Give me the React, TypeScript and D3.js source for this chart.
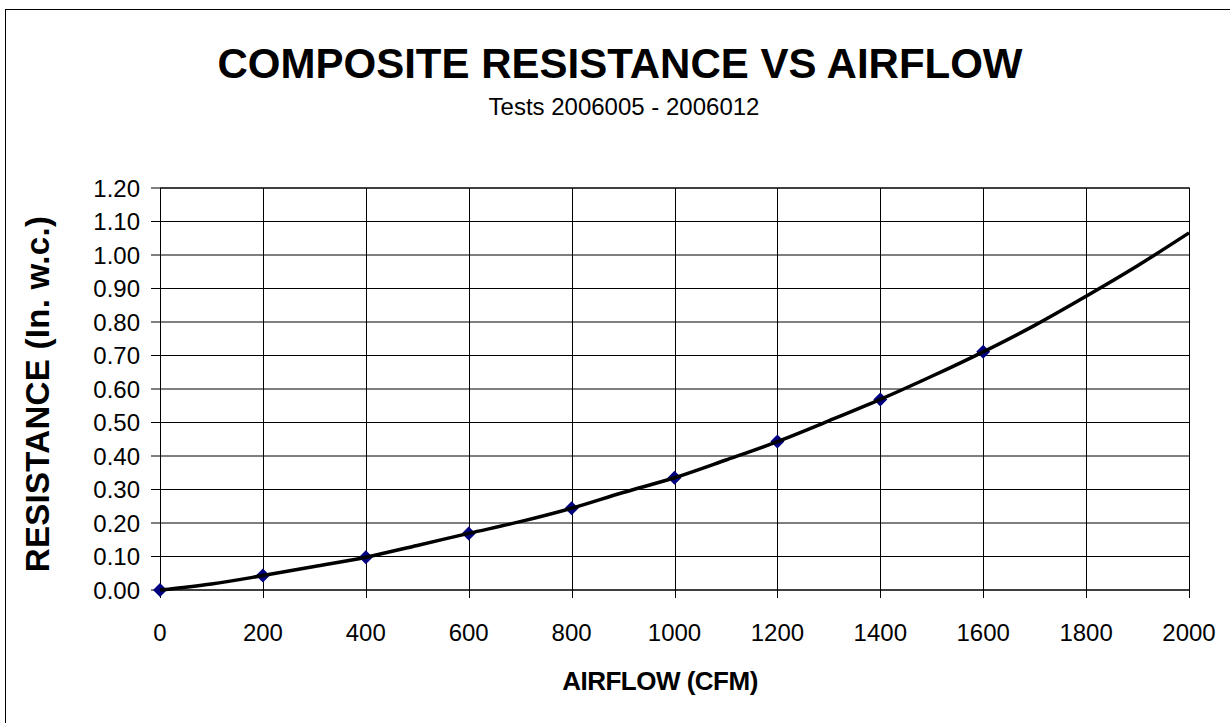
import { useEffect, useRef } from "react";
import * as d3 from "d3";

// measured test points (CFM, in. w.c.)
const testAirflow = [0, 200, 400, 600, 800, 1000, 1200, 1400, 1600];
const testResistance = [0.0, 0.043, 0.098, 0.169, 0.244, 0.335, 0.443, 0.569, 0.711];

// trend curve
const curveAirflow = [0, 100, 200, 300, 400, 500, 600, 700, 800, 900, 1000, 1100, 1200, 1300, 1400, 1500, 1600, 1700, 1800, 1900, 2000];
const curveResistance = [0.0, 0.018, 0.043, 0.07, 0.098, 0.133, 0.169, 0.204, 0.244, 0.291, 0.335, 0.388, 0.443, 0.505, 0.569, 0.638, 0.711, 0.79, 0.877, 0.968, 1.066];

const xTicks = [0, 200, 400, 600, 800, 1000, 1200, 1400, 1600, 1800, 2000];
const yTicks = [0, 0.1, 0.2, 0.3, 0.4, 0.5, 0.6, 0.7, 0.8, 0.9, 1.0, 1.1, 1.2];

export default function App() {
  const ref = useRef<SVGSVGElement>(null);

  useEffect(() => {
    if (!ref.current) return;
    const svg = d3.select(ref.current);
    svg.selectAll("*").remove();

    const font = "Arial, 'Liberation Sans', sans-serif";
    const left = 160, right = 1189, top = 188, bottom = 590;

    const x = d3.scaleLinear().domain([0, 2000]).range([left, right]);
    const y = d3.scaleLinear().domain([0, 1.2]).range([bottom, top]);

    // outer chart border (right/bottom are off-canvas)
    svg.append("rect")
      .attr("x", 5.5).attr("y", 9.5)
      .attr("width", 1300).attr("height", 800)
      .attr("fill", "none").attr("stroke", "#000");

    svg.append("text")
      .attr("x", 620).attr("y", 78)
      .attr("text-anchor", "middle")
      .attr("font-family", font).attr("font-weight", "bold").attr("font-size", 42)
      .text("COMPOSITE RESISTANCE VS AIRFLOW");

    svg.append("text")
      .attr("x", 624).attr("y", 115)
      .attr("text-anchor", "middle")
      .attr("font-family", font).attr("font-size", 24)
      .text("Tests 2006005 - 2006012");

    const g = svg.append("g");

    // horizontal grid
    g.selectAll("line.hg").data(yTicks).enter().append("line")
      .attr("x1", left).attr("x2", right)
      .attr("y1", (d) => y(d)).attr("y2", (d) => y(d))
      .attr("stroke", "#000").attr("stroke-width", 1);

    // vertical grid
    g.selectAll("line.vg").data(xTicks).enter().append("line")
      .attr("x1", (d) => Math.round(x(d)) + 0.5).attr("x2", (d) => Math.round(x(d)) + 0.5)
      .attr("y1", top).attr("y2", bottom)
      .attr("stroke", "#000").attr("stroke-width", 1);

    // tick marks
    g.selectAll("line.yt").data(yTicks).enter().append("line")
      .attr("x1", left - 9).attr("x2", left)
      .attr("y1", (d) => y(d)).attr("y2", (d) => y(d))
      .attr("stroke", "#000");
    g.selectAll("line.xt").data(xTicks).enter().append("line")
      .attr("x1", (d) => Math.round(x(d)) + 0.5).attr("x2", (d) => Math.round(x(d)) + 0.5)
      .attr("y1", bottom).attr("y2", bottom + 8)
      .attr("stroke", "#000");

    // plot border
    g.append("rect")
      .attr("x", left + 0.5).attr("y", top)
      .attr("width", right - left).attr("height", bottom - top)
      .attr("fill", "none").attr("stroke", "#000");

    // tick labels
    g.selectAll("text.yl").data(yTicks).enter().append("text")
      .attr("x", 140).attr("y", (d) => y(d) + 8.5)
      .attr("text-anchor", "end")
      .attr("font-family", font).attr("font-size", 24)
      .text((d) => d3.format(".2f")(d));
    g.selectAll("text.xl").data(xTicks).enter().append("text")
      .attr("x", (d) => x(d)).attr("y", 641)
      .attr("text-anchor", "middle")
      .attr("font-family", font).attr("font-size", 24)
      .text((d) => String(d));

    // axis titles
    svg.append("text")
      .attr("x", 660).attr("y", 690)
      .attr("text-anchor", "middle")
      .attr("font-family", font).attr("font-weight", "bold").attr("font-size", 26)
      .attr("letter-spacing", -0.5)
      .text("AIRFLOW (CFM)");
    svg.append("text")
      .attr("transform", `translate(49,394) rotate(-90)`)
      .attr("text-anchor", "middle")
      .attr("font-family", font).attr("font-weight", "bold").attr("font-size", 33)
      .attr("letter-spacing", 0.3)
      .text("RESISTANCE (In. w.c.)");

    // markers
    const pts = testAirflow.map((a, i) => [a, testResistance[i]] as [number, number]);
    g.selectAll("path.m").data(pts).enter().append("path")
      .attr("d", (d) => {
        const cx = x(d[0]), cy = y(d[1]), r = 7;
        return `M${cx},${cy - r}L${cx + r},${cy}L${cx},${cy + r}L${cx - r},${cy}Z`;
      })
      .attr("fill", "#000080");

    // trend line
    const curve = curveAirflow.map((a, i) => [a, curveResistance[i]] as [number, number]);
    const line = d3.line<[number, number]>()
      .x((d) => x(d[0])).y((d) => y(d[1]))
      .curve(d3.curveMonotoneX);
    g.append("path")
      .attr("d", line(curve) as string)
      .attr("fill", "none").attr("stroke", "#000").attr("stroke-width", 3.5);
  }, []);

  return (
    <svg
      ref={ref}
      width={1230}
      height={723}
      style={{ position: "absolute", left: 0, top: 0, background: "#fff" }}
    />
  );
}
